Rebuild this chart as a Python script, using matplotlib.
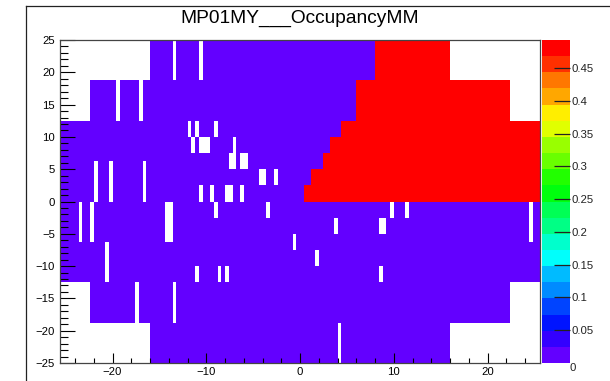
import colorsys

import numpy as np
import matplotlib
matplotlib.use("Agg")
import matplotlib.pyplot as plt
from matplotlib.colors import ListedColormap, BoundaryNorm
from matplotlib.lines import Line2D
from matplotlib.ticker import MultipleLocator

plt.rcParams['font.family'] = ['Liberation Sans', 'DejaVu Sans']

# ---- binning of the occupancy map (cm) ----
x_edges = np.linspace(-25.6, 25.6, 129)
y_edges = np.linspace(-25.0, 25.0, 41)

# active detector area, per horizontal band: (y_lo, y_hi, x_lo, x_hi)
active_bands = [
    (18.75, 25.0, -16.0, 16.0),
    (12.5, 18.75, -22.4, 22.4),
    (-12.5, 12.5, -25.6, 25.6),
    (-18.75, -12.5, -22.4, 22.4),
    (-25.0, -18.75, -16.0, 16.0),
]

# high-occupancy region, per band: (y_lo, y_hi, x_lo, x_hi)
hot_bands = [
    (18.75, 25.0, 8.0, 25.6),
    (12.5, 18.75, 6.0, 25.6),
    (10.0, 12.5, 4.4, 25.6),
    (7.5, 10.0, 3.2, 25.6),
    (5.0, 7.5, 2.4, 25.6),
    (2.5, 5.0, 1.2, 25.6),
    (0.0, 2.5, 0.4, 25.6),
]

# channels without entries: (x_lo, x_hi, y_lo, y_hi)
dead_cells = [
    (-13.6, -13.2, 18.75, 25.0),
    (-10.8, -10.4, 18.75, 25.0),
    (-19.6, -19.2, 12.5, 18.75),
    (-17.2, -16.8, 12.5, 18.75),
    (-12.0, -11.6, 10.0, 12.5),
    (-11.2, -10.8, 10.0, 12.5),
    (-9.2, -8.8, 10.0, 12.5),
    (-11.6, -11.2, 7.5, 10.0),
    (-10.8, -9.6, 7.5, 10.0),
    (-7.2, -6.8, 7.5, 10.0),
    (-7.6, -6.8, 5.0, 7.5),
    (-6.4, -5.6, 5.0, 7.5),
    (-4.4, -3.6, 2.5, 5.0),
    (-2.8, -2.4, 2.5, 5.0),
    (-22.0, -21.6, 0.0, 6.25),
    (-20.4, -20.0, 0.0, 6.25),
    (-16.8, -16.4, 0.0, 6.25),
    (-10.8, -10.4, 0.0, 2.5),
    (-9.6, -9.2, 0.0, 2.5),
    (-8.0, -7.2, 0.0, 2.5),
    (-6.4, -6.0, 0.0, 2.5),
    (-23.6, -23.2, -6.25, 0.0),
    (-22.4, -22.0, -6.25, 0.0),
    (-14.4, -13.6, -6.25, 0.0),
    (-9.2, -8.8, -2.5, 0.0),
    (-3.6, -3.2, -2.5, 0.0),
    (-0.8, -0.4, -7.5, -5.0),
    (-20.8, -20.4, -12.5, -6.25),
    (-11.2, -10.8, -12.5, -10.0),
    (-8.8, -8.4, -12.5, -10.0),
    (-8.0, -7.6, -12.5, -10.0),
    (-17.6, -17.2, -18.75, -12.5),
    (-13.6, -13.2, -18.75, -12.5),
    (9.6, 10.0, -2.5, 0.0),
    (11.2, 11.6, -2.5, 0.0),
    (24.4, 24.8, -6.25, 0.0),
    (3.6, 4.0, -5.0, -2.5),
    (8.4, 9.2, -5.0, -2.5),
    (1.6, 2.0, -10.0, -7.5),
    (8.4, 8.8, -12.5, -10.0),
    (4.0, 4.4, -25.0, -18.75),
]

occ_low = 0.006
occ_hot = 0.493
z_max = 0.493
n_contours = 20

cbar_ticks = [0.05, 0.1, 0.15, 0.2, 0.25, 0.3, 0.35, 0.4, 0.45]
cbar_labels = ['0.05', '0.1', '0.15', '0.2', '0.25', '0.3', '0.35', '0.4', '0.45']

title = 'MP01MY___OccupancyMM'

# ---- fill the bin contents ----
xc = 0.5 * (x_edges[:-1] + x_edges[1:])
yc = 0.5 * (y_edges[:-1] + y_edges[1:])
X, Y = np.meshgrid(xc, yc)


def box(x0, x1, y0, y1):
    return (X > x0) & (X < x1) & (Y > y0) & (Y < y1)


occ = np.full(X.shape, np.nan)
for y0, y1, x0, x1 in active_bands:
    occ[box(x0, x1, y0, y1)] = occ_low
for y0, y1, x0, x1 in hot_bands:
    sel = box(x0, x1, y0, y1) & ~np.isnan(occ)
    occ[sel] = occ_hot
for x0, x1, y0, y1 in dead_cells:
    occ[box(x0, x1, y0, y1)] = np.nan
occ = np.ma.masked_invalid(occ)


# ---- "pretty" violet -> red palette sampled at the contour levels ----
def palette_color(j):
    k = int((j + 0.99) * 50 / n_contours)
    if k >= 49:
        return (1.0, 0.0, 0.0)
    hue = 280.0 - (k + 1) * 5.6
    return colorsys.hls_to_rgb(hue / 360.0, 0.5, 1.0)


cmap = ListedColormap([palette_color(j) for j in range(n_contours)])
levels = np.linspace(0.0, z_max, n_contours + 1)
norm = BoundaryNorm(levels, cmap.N)

W, H = 610, 381
fig = plt.figure(figsize=(W / 100, H / 100), dpi=100)

ax = fig.add_axes([60 / W, 18 / H, 480 / W, 323 / H])
mesh = ax.pcolormesh(x_edges, y_edges, occ, cmap=cmap, norm=norm,
                     shading='flat', edgecolors='none', antialiased=False)
ax.set_xlim(-25.6, 25.6)
ax.set_ylim(-25.0, 25.0)

ax.xaxis.set_major_locator(MultipleLocator(10))
ax.xaxis.set_minor_locator(MultipleLocator(2))
ax.yaxis.set_major_locator(MultipleLocator(5))
ax.yaxis.set_minor_locator(MultipleLocator(1))
ax.tick_params(axis='both', which='both', direction='in', top=False, right=False,
               colors='black', width=0.8, labelsize=8.2)
ax.tick_params(axis='y', which='major', length=10.8, pad=3.5)
ax.tick_params(axis='y', which='minor', length=5.6)
ax.tick_params(axis='x', which='major', length=7.2, pad=3.2)
ax.tick_params(axis='x', which='minor', length=3.6)
for s in ax.spines.values():
    s.set_color('#444444')
    s.set_linewidth(0.9)

# colour scale
cax = fig.add_axes([542 / W, 18 / H, 28 / W, 323 / H])
cb = fig.colorbar(mesh, cax=cax, boundaries=levels, ticks=cbar_ticks)
cb.outline.set_visible(False)
cb.ax.set_yticklabels(cbar_labels)
cb.ax.tick_params(axis='y', which='both', direction='in', right=True, left=False,
                  length=11.5, width=0.9, colors='#222222', labelsize=8.2, pad=0.8)
cb.ax.minorticks_off()
cax.text(1.0, 0.0, '0', transform=cax.transAxes, ha='left', va='top',
         fontsize=8.2, color='#222222')

fig.text(300 / W, 1 - 23 / H, title, ha='center', va='baseline', fontsize=13.8)

# pad border
fig.add_artist(Line2D([25.5 / W, 25.5 / W], [0, 1 - 6 / H], transform=fig.transFigure,
                      color='#222222', linewidth=0.9))
fig.add_artist(Line2D([25.5 / W, 1.0], [1 - 6 / H, 1 - 6 / H], transform=fig.transFigure,
                      color='#222222', linewidth=0.9))

fig.savefig('out.png', dpi=100)
